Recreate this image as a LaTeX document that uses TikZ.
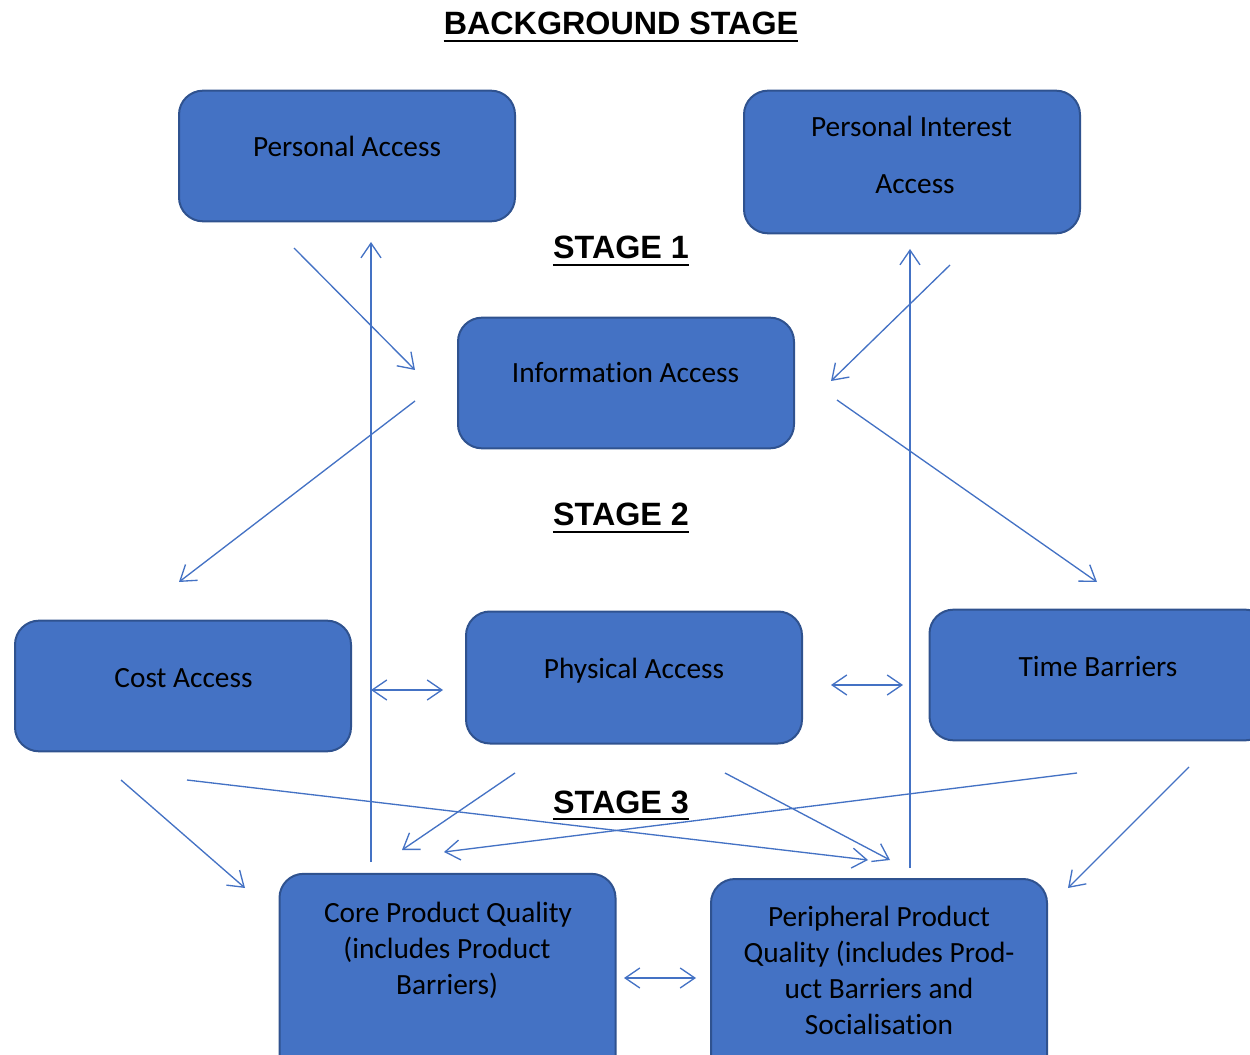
\documentclass[tikz,border=0pt]{standalone}
\usepackage{fontspec}
\setmainfont{Carlito}[Ligatures=NoCommon]
\newfontfamily\titlefont{Liberation Sans}
\usetikzlibrary{arrows.meta}
\definecolor{boxfill}{HTML}{4472C4}
\definecolor{boxline}{HTML}{2F528F}
\definecolor{arr}{HTML}{4472C4}
\begin{document}
\begin{tikzpicture}[x=0.75pt,y=-0.75pt,
  box/.style={draw=boxline, fill=boxfill, line width=1.5pt, rounded corners=18pt,
    minimum width=252pt, minimum height=#1, inner sep=0pt},
  box/.default=98pt,
  lbl/.style={anchor=base, inner sep=0pt, font=\fontsize{22}{27}\selectfont},
  ttl/.style={anchor=base, inner sep=0pt, font=\titlefont\bfseries\fontsize{24.2}{28}\selectfont},
  conn/.style={draw=arr, line width=1pt},
  tip/.style={-{Straight Barb[length=11pt,width=15pt]}},
  both/.style={{Straight Barb[length=11pt,width=15pt]}-{Straight Barb[length=11pt,width=15pt]}},
  uline/.style={line width=2.2pt}]
\useasboundingbox (0,0) rectangle (1250,1055);

% titles
\node[ttl] (bg) at (621,35) {BACKGROUND STAGE};
\node[ttl] (s1) at (621,259) {STAGE 1};
\node[ttl] (s2) at (621,526) {STAGE 2};
\node[ttl] (s3) at (621,813) {STAGE 3};
\foreach \t in {bg,s1,s2,s3}
  \draw[uline] ([yshift=-4.5pt]\t.base west) -- ([yshift=-4.5pt]\t.base east);

% boxes
\node[box] (pa) at (347,156) {};
\node[box=107pt] (pi) at (912,162) {};
\node[box] (ia) at (626,383) {};
\node[box] (ca) at (183,686) {};
\node[box=99pt] (ph) at (634,677.5) {};
\node[box, minimum width=255pt] (tb) at (1099.5,675) {};
\node[box=154pt] (cp) at (447.5,976.5) {};
\node[box=150pt] (pp) at (879,979) {};

% labels
\node[lbl] (pat) at (347,157) {Personal Access};
\node[lbl] (pit1) at (911.5,137) {Personal Interest};
\node[lbl] (pit2) at (915,194) {Access};
\node[lbl] (iat) at (625.5,383) {Information Access};
\node[lbl] (cat) at (183.5,687) {Cost Access};
\node[lbl] (pht) at (634,678) {Physical Access};
\node[lbl] (tbt) at (1098,676) {Time Barriers};
\node[lbl] (cpt1) at (448,922) {Core Product Quality};
\node[lbl] (cpt2) at (447,958) {(includes Product};
\node[lbl] (cpt3) at (447,994) {Barriers)};
\node[lbl] (ppt1) at (879,926) {Peripheral Product};
\node[lbl] (ppt2) at (879,962) {Quality (includes Prod-};
\node[lbl] (ppt3) at (879,998) {uct Barriers and};
\node[lbl] (ppt4) at (879,1034) {Socialisation};

% connector end points
\coordinate (a1s) at (294,248);  \coordinate (a1e) at (415,370);
\coordinate (a2s) at (371,862);  \coordinate (a2e) at (371,242);
\coordinate (a3s) at (950,265);  \coordinate (a3e) at (831,381);
\coordinate (a4s) at (910,868);  \coordinate (a4e) at (910,249);
\coordinate (a5s) at (415,401);  \coordinate (a5e) at (179,582);
\coordinate (a6s) at (837,400);  \coordinate (a6e) at (1097,582);
\coordinate (a7s) at (371,690);  \coordinate (a7e) at (443,690);
\coordinate (a8s) at (831,685);  \coordinate (a8e) at (903,685);
\coordinate (a9s) at (121,780);  \coordinate (a9e) at (245,888);
\coordinate (a10s) at (187,780); \coordinate (a10e) at (868,860);
\coordinate (a11s) at (515,773); \coordinate (a11e) at (402,850);
\coordinate (a12s) at (725,773); \coordinate (a12e) at (890,860);
\coordinate (a13s) at (1077,773);\coordinate (a13e) at (444,852);
\coordinate (a14s) at (1189,767);\coordinate (a14e) at (1068,888);
\coordinate (a15s) at (624,978); \coordinate (a15e) at (696,978);

% connectors
\foreach \n in {1,2,3,4,5,6,9,10,11,12,13,14}
  \draw[conn,tip] (a\n s) -- (a\n e);
\foreach \n in {7,8,15}
  \draw[conn,both] (a\n s) -- (a\n e);
\end{tikzpicture}
\end{document}
